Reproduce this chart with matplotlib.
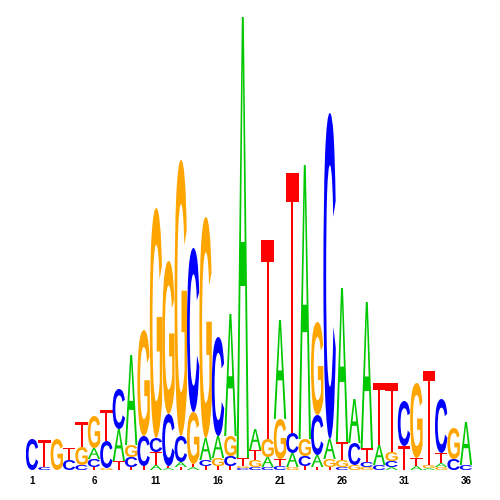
import numpy as np
import matplotlib
matplotlib.use("Agg")
import matplotlib.pyplot as plt
from matplotlib.textpath import TextPath
from matplotlib.patches import PathPatch
from matplotlib.path import Path
from matplotlib.font_manager import FontProperties
from matplotlib.transforms import Affine2D

positions = np.arange(1, 37)
A = [0, 0, 0, 0, 0, 11, 0, 32, 90, 0, 5, 2, 5, 3, 22, 22, 122, 441,
     21, 10, 99, 14, 274, 12, 20, 154, 44, 146, 20, 3, 0, 4, 2, 4, 0, 43]
C = [31, 3, 0, 10, 5, 8, 27, 40, 10, 30, 14, 52, 26, 164, 6, 99, 10, 2,
     3, 3, 4, 20, 10, 40, 326, 3, 22, 5, 5, 6, 45, 0, 0, 54, 11, 5]
G = [0, 0, 31, 0, 18, 32, 2, 0, 12, 106, 230, 153, 276, 52, 221, 8, 20, 2,
     7, 18, 40, 3, 17, 93, 8, 7, 5, 3, 0, 9, 0, 75, 3, 3, 31, 0]
T = [0, 27, 0, 12, 25, 3, 31, 9, 3, 4, 13, 2, 3, 3, 4, 4, 4, 8,
     10, 199, 7, 260, 4, 3, 3, 18, 0, 14, 62, 69, 24, 8, 94, 10, 0, 0]
tick_pos = [1, 6, 11, 16, 21, 26, 31, 36]

colors = {"A": "#00C800", "C": "#0000FF", "G": "#FFA500", "T": "#FF0000"}
bold = FontProperties(family="Liberation Sans", weight="bold")
regular = FontProperties(family="Liberation Sans", weight="normal")

# A with a high crossbar and thin legs, in a unit box
a_path = Path(
    [(0, 0), (0.16, 0), (0.31, 0.39), (0.69, 0.39), (0.84, 0), (1, 0),
     (0.58, 1), (0.42, 1), (0, 0),
     (0.35, 0.49), (0.5, 0.9), (0.65, 0.49), (0.35, 0.49)],
    [Path.MOVETO] + [Path.LINETO] * 7 + [Path.CLOSEPOLY,
     Path.MOVETO, Path.LINETO, Path.LINETO, Path.CLOSEPOLY])


def glyph(letter):
    if letter == "A":
        return a_path
    tp = TextPath((0, 0), letter, size=1, prop=regular if letter == "T" else bold)
    bb = tp.get_extents()
    return Affine2D().translate(-bb.x0, -bb.y0).scale(
        1 / bb.width, 1 / bb.height).transform_path(tp)


def draw_letter(ax, letter, x, y, w, h):
    tr = Affine2D().scale(w, h).translate(x - w / 2, y)
    ax.add_patch(PathPatch(tr.transform_path(glyph(letter)),
                           facecolor=colors[letter], edgecolor="none", lw=0))


fig = plt.figure(figsize=(5, 5), dpi=100)
ax = fig.add_axes([25.8 / 500, 30 / 500, 446.4 / 500, 453 / 500])
ax.set_xlim(0.5, 36.5)
ax.set_ylim(0, 453)
ax.axis("off")

for i, p in enumerate(positions):
    col = sorted(zip([A[i], C[i], G[i], T[i]], "ACGT"))
    y = 0
    for h, letter in col:
        if h <= 0:
            continue
        draw_letter(ax, letter, p, y, 1.0, h)
        y += h

for p in tick_pos:
    ax.text(p, -11, str(p), ha="center", va="center", fontsize=7,
            fontweight="bold", family="Liberation Sans", clip_on=False)

fig.savefig("out.png", dpi=100)
